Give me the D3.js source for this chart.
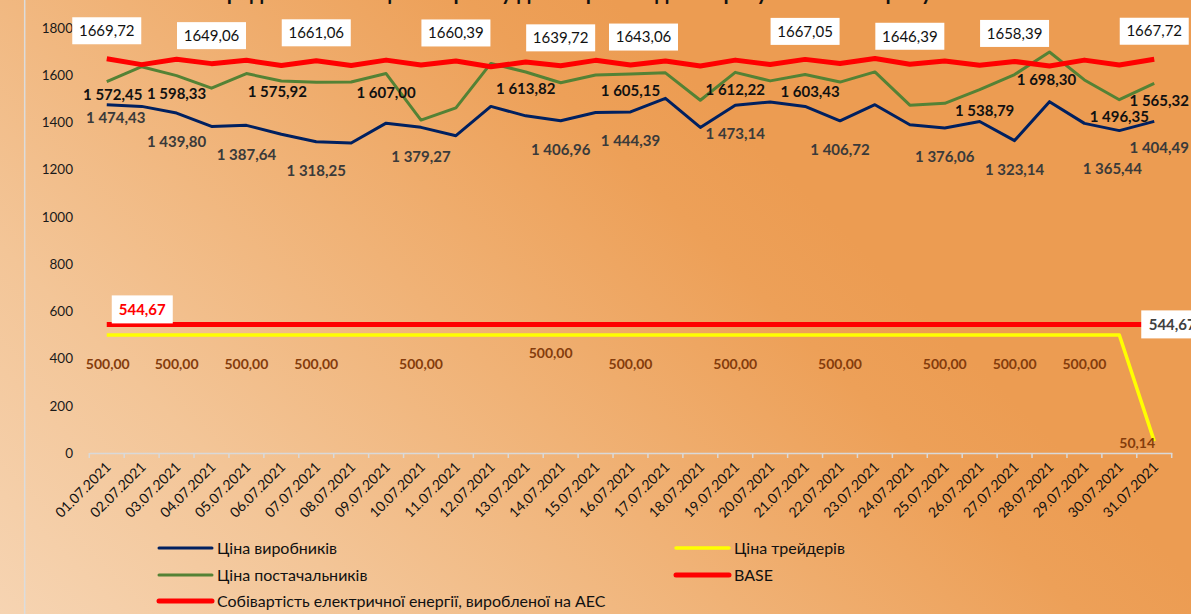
<!DOCTYPE html>
<html>
<head>
<meta charset="utf-8">
<script src="https://cdn.jsdelivr.net/npm/d3@7"></script>
<style>
    body { margin: 0; overflow: hidden; }
    svg { display: block; font-family: Lato, "Open Sans", sans-serif; }
</style>
</head>
<body>
<div id="chart"></div>
<script>
// DATA
var dates = ["01.07.2021", "02.07.2021", "03.07.2021", "04.07.2021", "05.07.2021", "06.07.2021",
    "07.07.2021", "08.07.2021", "09.07.2021", "10.07.2021", "11.07.2021", "12.07.2021",
    "13.07.2021", "14.07.2021", "15.07.2021", "16.07.2021", "17.07.2021", "18.07.2021",
    "19.07.2021", "20.07.2021", "21.07.2021", "22.07.2021", "23.07.2021", "24.07.2021",
    "25.07.2021", "26.07.2021", "27.07.2021", "28.07.2021", "29.07.2021", "30.07.2021",
    "31.07.2021"];

var producers = [1474.43, 1468, 1439.80, 1383, 1387.64, 1350, 1318.25, 1313, 1397, 1379.27,
    1344, 1468, 1428, 1406.96, 1442, 1444.39, 1502, 1379, 1473.14, 1487,
    1468, 1406.72, 1475, 1390, 1376.06, 1404, 1323.14, 1488, 1396, 1365.44, 1404.49];

var suppliers = [1572.45, 1636, 1598.33, 1545, 1607, 1575.92, 1570, 1571, 1607.00, 1410,
    1462, 1650, 1613.82, 1568, 1601, 1605.15, 1610, 1494, 1612.22, 1576,
    1603.43, 1571, 1614, 1473, 1481, 1538.79, 1603, 1698.30, 1580, 1496.35, 1565.32];

var traders = [500, 500, 500, 500, 500, 500, 500, 500, 500, 500,
    500, 500, 500, 500, 500, 500, 500, 500, 500, 500,
    500, 500, 500, 500, 500, 500, 500, 500, 500, 500, 50.14];

var base = [1669.72, 1645, 1668, 1649.06, 1663, 1641, 1661.06, 1641, 1664, 1643,
    1660.39, 1636, 1656, 1639.72, 1663, 1643.06, 1660, 1639, 1664, 1645,
    1667.05, 1650, 1671, 1646.39, 1660, 1642, 1658.39, 1639, 1664, 1643, 1667.72];

var aesCost = [544.67, 544.67, 544.67, 544.67, 544.67, 544.67, 544.67, 544.67, 544.67, 544.67,
    544.67, 544.67, 544.67, 544.67, 544.67, 544.67, 544.67, 544.67, 544.67, 544.67,
    544.67, 544.67, 544.67, 544.67, 544.67, 544.67, 544.67, 544.67, 544.67, 544.67, 544.67];

var yTicks = [0, 200, 400, 600, 800, 1000, 1200, 1400, 1600, 1800];

// which days carry a data label (1-based)
var producerLabelDays = [1, 3, 5, 7, 10, 14, 16, 19, 22, 25, 27, 30, 31];
var supplierLabelDays = [1, 3, 6, 9, 13, 16, 19, 21, 26, 28, 30, 31];
var traderLabelDays = [1, 3, 5, 7, 10, 14, 16, 19, 22, 25, 27, 29, 31];
var baseLabelDays = [1, 4, 7, 11, 14, 16, 21, 24, 27, 31];

var legendNames = ["Ціна виробників", "Ціна трейдерів", "Ціна постачальників", "BASE",
    "Собівартість електричної енергії, виробленої на АЕС"];

var title = "Середньозважені ціни на ринку двосторонніх договорів у липні 2021 року";

// HELPERS
var locale = d3.formatLocale({ decimal: ",", thousands: " ", grouping: [3] });
var fmtGroup = locale.format(",.2f");
var fmtPlain = locale.format(".2f");

var W = 1191, H = 614;

var svg = d3.select("#chart")
    .append("svg")
    .attr("width", W)
    .attr("height", H);

// background gradient
var grad = svg.append("defs")
    .append("linearGradient")
    .attr("id", "bg")
    .attr("gradientUnits", "userSpaceOnUse")
    .attr("x1", 0).attr("y1", 614)
    .attr("x2", 614).attr("y2", 0);
[[0, "#f6d4b2"], [0.3, "#f3c597"], [0.6, "#f0b276"], [0.88, "#eda058"], [1, "#ec9c52"]]
    .forEach(function (s) {
        grad.append("stop").attr("offset", s[0]).attr("stop-color", s[1]);
    });

svg.append("rect")
    .attr("width", W)
    .attr("height", H)
    .attr("fill", "url(#bg)");

svg.append("line")
    .attr("x1", 24.7).attr("x2", 24.7)
    .attr("y1", 0).attr("y2", H)
    .attr("stroke", "#dcdcdc")
    .attr("stroke-width", 1.5);

// title (cut off by the top edge)
svg.append("text")
    .attr("x", 567)
    .attr("y", 0)
    .attr("text-anchor", "middle")
    .style("font-size", "21px")
    .style("font-weight", "bold")
    .style("fill", "#111")
    .text(title);

// SCALES
var xScale = d3.scaleBand()
    .domain(dates)
    .range([89.3, 1171.7]);

var yScale = d3.scaleLinear()
    .domain([0, 1800])
    .range([453, 28]);

function px(i) {
    return xScale(dates[i]) + xScale.bandwidth() / 2;
}

// AXES
var yAxis = svg.append("g")
    .attr("transform", "translate(89, 0)")
    .call(d3.axisLeft(yScale).tickValues(yTicks).tickFormat(d3.format("d"))
        .tickSize(0).tickPadding(16));
yAxis.select(".domain").remove();
yAxis.selectAll("text")
    .style("font-family", "Lato, sans-serif")
    .style("font-size", "13.5px")
    .style("fill", "#1a1a1a");

var xAxis = svg.append("g")
    .attr("transform", "translate(0, 453)")
    .call(d3.axisBottom(xScale).tickSize(0).tickSizeOuter(0));
xAxis.select(".domain")
    .attr("stroke", "#d9d9d9")
    .attr("stroke-width", 1.5);
xAxis.selectAll(".tick text")
    .attr("text-anchor", "end")
    .attr("dy", null)
    .attr("y", null)
    .attr("transform", "translate(5, 15) rotate(-45)")
    .style("font-family", "Lato, sans-serif")
    .style("font-size", "14px")
    .style("fill", "#111");

// category boundary ticks
var bounds = dates.map(function (d) { return xScale(d); }).concat([xScale.range()[1]]);
xAxis.selectAll("line.bound")
    .data(bounds)
    .enter()
    .append("line")
    .attr("class", "bound")
    .attr("x1", function (d) { return d; })
    .attr("x2", function (d) { return d; })
    .attr("y1", 0)
    .attr("y2", 5)
    .attr("stroke", "#d9d9d9")
    .attr("stroke-width", 1.5);

// LINES
var lineGen = d3.line()
    .x(function (d, i) { return px(i); })
    .y(function (d) { return yScale(d); });

var series = [
    { values: aesCost, color: "#ff0000", width: 5 },
    { values: traders, color: "#ffff00", width: 3.5 },
    { values: producers, color: "#002060", width: 3 },
    { values: suppliers, color: "#548235", width: 3 },
    { values: base, color: "#ff0000", width: 5 }
];

series.forEach(function (s) {
    svg.append("path")
        .datum(s.values)
        .attr("d", lineGen)
        .attr("fill", "none")
        .attr("stroke", s.color)
        .attr("stroke-width", s.width)
        .attr("stroke-linejoin", "round");
});

// DATA LABELS
function addLabels(days, values, fmt, opts) {
    days.forEach(function (day) {
        var i = day - 1;
        var nudge = (opts.nudge && opts.nudge[day]) || {};
        var cx = px(i) + (nudge.dx || 0);
        var cy = yScale(values[i]) + (nudge.dy !== undefined ? nudge.dy : opts.dy);
        if (opts.box) {
            svg.append("rect")
                .attr("x", cx - opts.box[0] / 2)
                .attr("y", cy - opts.box[1] / 2)
                .attr("width", opts.box[0])
                .attr("height", opts.box[1])
                .attr("fill", "#fff");
        }
        svg.append("text")
            .attr("x", cx)
            .attr("y", cy)
            .attr("dy", "0.35em")
            .attr("text-anchor", "middle")
            .style("font-size", opts.size)
            .style("font-weight", opts.weight)
            .style("fill", opts.color)
            .text(fmt(values[i]));
    });
}

addLabels(baseLabelDays, base, fmtPlain, {
    dy: -28, box: [69, 27], size: "15px", weight: "normal", color: "#111",
    nudge: { 16: { dx: 13 } }
});

addLabels(supplierLabelDays, suppliers, fmtGroup, {
    dy: 17, size: "15px", weight: "bold", color: "#111",
    nudge: { 1: { dx: 6, dy: 13 }, 3: { dy: 18.5 }, 6: { dx: -4, dy: 11 }, 9: { dy: 19 },
        21: { dx: 5 }, 26: { dx: 5, dy: 21 }, 28: { dx: -3, dy: 27.5 }, 31: { dx: 5 } }
});

addLabels(producerLabelDays, producers, fmtGroup, {
    dy: 29, size: "15px", weight: "bold", color: "#3a3a3a",
    nudge: { 1: { dx: 9, dy: 12.5 }, 30: { dx: -7, dy: 38 }, 31: { dx: 5, dy: 26.5 } }
});

addLabels(traderLabelDays, traders, fmtGroup, {
    dy: 29, size: "14px", weight: "bold", color: "#843c0c",
    nudge: { 1: { dx: 1 }, 14: { dx: -10, dy: 18 }, 31: { dx: -17, dy: 2 } }
});

// AES cost labels, first and last point
addLabels([1], aesCost, fmtPlain, {
    dy: -15, box: [61, 28], size: "15px", weight: "bold", color: "#ff0000",
    nudge: { 1: { dx: 35.5, dy: -15 } }
});
addLabels([31], aesCost, fmtPlain, {
    dy: 0, box: [62, 28], size: "15px", weight: "bold", color: "#404040",
    nudge: { 31: { dx: 18, dy: 0 } }
});

// LEGEND
var legendItems = [
    { name: legendNames[0], color: "#002060", width: 3, x: 159, y: 548 },
    { name: legendNames[1], color: "#ffff00", width: 3.5, x: 676, y: 548 },
    { name: legendNames[2], color: "#548235", width: 3, x: 159, y: 575 },
    { name: legendNames[3], color: "#ff0000", width: 5, x: 676, y: 575 },
    { name: legendNames[4], color: "#ff0000", width: 5, x: 159, y: 601 }
];

var legend = svg.append("g");
legendItems.forEach(function (d) {
    legend.append("line")
        .attr("x1", d.x).attr("x2", d.x + 53)
        .attr("y1", d.y).attr("y2", d.y)
        .attr("stroke", d.color)
        .attr("stroke-width", d.width)
        .attr("stroke-linecap", "round");
    legend.append("text")
        .attr("x", d.x + 58)
        .attr("y", d.y)
        .attr("dy", "0.35em")
        .style("font-size", "16px")
        .style("fill", "#111")
        .text(d.name);
});
</script>
</body>
</html>
